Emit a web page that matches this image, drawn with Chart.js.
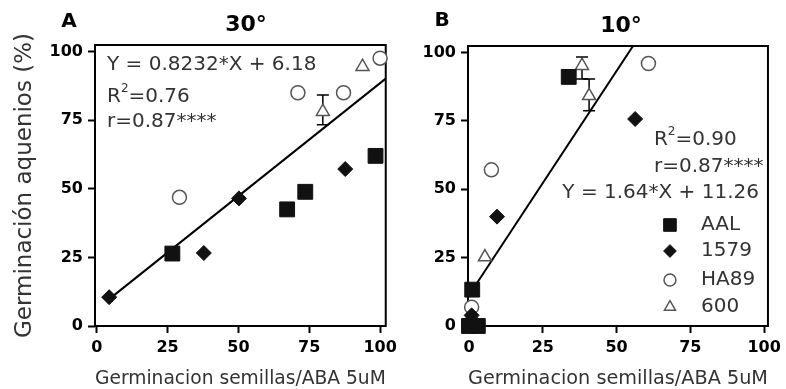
<!DOCTYPE html>
<html>
<head>
<meta charset="utf-8">
<script src="https://cdn.jsdelivr.net/npm/chart.js@4.4.1/dist/chart.umd.min.js"></script>
<style>
html, body { margin: 0; padding: 0; background: #fff; }
#wrap { position: relative; width: 786px; height: 389px; overflow: hidden; }
.panel { position: absolute; top: 0; height: 389px; }
#pa { left: 0; width: 402px; }
#pb { left: 402px; width: 384px; }
</style>
</head>
<body>
<div id="wrap">
  <div class="panel" id="pa"><canvas id="chartA"></canvas></div>
  <div class="panel" id="pb"><canvas id="chartB"></canvas></div>
</div>
<script>
// ---- data ----
const axisTicks = [0, 25, 50, 75, 100];
const genotypes = ['AAL', '1579', 'HA89', '600'];

// Panel A (30°): [x, y] = [germinacion semillas, germinacion aquenios]
const aalA = [[26.7, 26.4], [67.2, 42.5], [73.6, 48.9], [98.4, 62]];
const g1579A = [[4.4, 10.5], [37.8, 26.6], [50.2, 46.5], [87.7, 57.2]];
const ha89A = [[29.2, 46.9], [71, 85], [87.1, 85], [100, 97.6]];
const g600A = [[79.8, 78.1], [93.8, 94.5]];
const errA = [[79.8, 73.3, 84.2]];           // x, low, high
const fitA = [0.8232, 6.18];                  // slope, intercept
const fitRangeA = [4.4, 102];

// Panel B (10°)
const aalB = [[0, 0], [3, 0], [1.1, 13.3], [33.8, 91.1]];
const g1579B = [[0.9, 0], [0.9, 3.9], [9.5, 40], [56.3, 75.7]];
const ha89B = [[0.9, 1.5], [0.9, 6.9], [7.6, 57.1], [60.8, 96]];
const g600B = [[2, 0], [5.4, 25.2], [38.3, 95.2], [40.7, 84.2]];
const errB = [[38.3, 90.3, 98.4], [40.7, 78.7, 90.3]];
const fitB = [1.64, 11.26];
const fitRangeB = [1.1, 60];

Chart.defaults.font.family = "'DejaVu Sans', sans-serif";
Chart.defaults.color = '#000';

const toPts = arr => arr.map(p => ({ x: p[0], y: p[1] }));
const fitPts = (fit, range) => range.map(x => ({ x: x, y: fit[0] * x + fit[1] }));

function markerSets(aal, g1579, ha89, g600) {
    return [
        { label: genotypes[0], data: toPts(aal), pointStyle: 'rect', pointRadius: 10.5,
          backgroundColor: '#111', borderColor: '#111', borderWidth: 1, order: 1 },
        { label: genotypes[1], data: toPts(g1579), pointStyle: 'rectRot', pointRadius: 7.5,
          backgroundColor: '#111', borderColor: '#111', borderWidth: 1, order: 2 },
        { label: genotypes[2], data: toPts(ha89), pointStyle: 'circle', pointRadius: 7,
          backgroundColor: '#fff', borderColor: '#555', borderWidth: 1.5, order: 3 },
        { label: genotypes[3], data: toPts(g600), pointStyle: 'triangle', pointRadius: 7.5,
          backgroundColor: '#fff', borderColor: '#555', borderWidth: 1.5, order: 4 }
    ].map(d => Object.assign(d, { clip: false, showLine: false, pointHoverRadius: d.pointRadius }));
}

// frame + error bars, drawn under the markers
const framePlugin = {
    id: 'frame',
    beforeDatasetsDraw(chart, args, opts) {
        const { ctx, chartArea: a, scales } = chart;
        ctx.save();
        ctx.strokeStyle = '#000';
        ctx.lineWidth = 2;
        ctx.strokeRect(a.left, a.top, a.right - a.left, a.bottom - a.top);
        ctx.lineWidth = 1.5;
        (opts.errors || []).forEach(e => {
            const x = scales.x.getPixelForValue(e[0]);
            const lo = scales.y.getPixelForValue(e[1]);
            const hi = scales.y.getPixelForValue(e[2]);
            ctx.beginPath();
            ctx.moveTo(x, lo); ctx.lineTo(x, hi);
            ctx.moveTo(x - 6, lo); ctx.lineTo(x + 6, lo);
            ctx.moveTo(x - 6, hi); ctx.lineTo(x + 6, hi);
            ctx.stroke();
        });
        ctx.restore();
    }
};

function drawR2(ctx, x, y, value) {
    ctx.textAlign = 'left';
    ctx.font = "20px 'DejaVu Sans'";
    ctx.fillText('R', x, y);
    const w = ctx.measureText('R').width;
    ctx.font = "12px 'DejaVu Sans'";
    ctx.fillText('2', x + w, y - 8);
    const w2 = ctx.measureText('2').width;
    ctx.font = "20px 'DejaVu Sans'";
    ctx.fillText('=' + value, x + w + w2, y);
}

const textPlugin = {
    id: 'panelText',
    afterDraw(chart, args, opts) {
        const { ctx } = chart;
        ctx.save();
        ctx.fillStyle = '#000';
        ctx.textBaseline = 'middle';
        ctx.textAlign = 'center';
        ctx.font = "bold 20px 'DejaVu Sans'";
        ctx.fillText(opts.letter[0], opts.letter[1], opts.letter[2]);
        ctx.font = "bold 22px 'DejaVu Sans'";
        ctx.fillText(opts.title[0], opts.title[1], opts.title[2]);
        ctx.fillStyle = '#333';
        opts.draw(ctx, chart);
        ctx.restore();
    }
};

function scaleOpts(min, max, size, title) {
    return {
        type: 'linear', min: min, max: max,
        afterBuildTicks: s => { s.ticks = axisTicks.map(v => ({ value: v })); },
        afterFit: s => { if (s.isHorizontal()) s.height = size; else s.width = size; },
        grid: { drawOnChartArea: false, drawTicks: true, tickLength: 7, tickColor: '#000', tickWidth: 2 },
        border: { display: false },
        ticks: { color: '#000', font: { size: 16, weight: 'bold' }, padding: 5, maxRotation: 0, autoSkip: false },
        title: title
    };
}

const xTitle = { display: true, text: 'Germinacion semillas/ABA 5uM', color: '#333',
                 font: { size: 20, lineHeight: 1 }, padding: { top: 0, bottom: 0 } };

function makePanel(id, cfg) {
    return new Chart(document.getElementById(id), {
        type: 'scatter',
        data: {
            datasets: markerSets.apply(null, cfg.sets).concat([{
                type: 'line', label: 'fit', data: fitPts(cfg.fit, cfg.fitRange),
                borderColor: '#000', borderWidth: 2, pointRadius: 0, fill: false, order: 5
            }])
        },
        options: {
            responsive: true,
            maintainAspectRatio: false,
            animation: false,
            layout: { padding: cfg.padding },
            plugins: {
                legend: { display: false },
                tooltip: { enabled: false },
                frame: { errors: cfg.errors },
                panelText: cfg.text
            },
            scales: {
                x: scaleOpts(cfg.xRange[0], cfg.xRange[1], 63, xTitle),
                y: scaleOpts(0, 102.4, cfg.yWidth, cfg.yTitle)
            }
        },
        plugins: [framePlugin, textPlugin]
    });
}

// Panel A
makePanel('chartA', {
    sets: [aalA, g1579A, ha89A, g600A],
    fit: fitA, fitRange: fitRangeA, errors: errA,
    xRange: [-0.6, 102], yWidth: 95,
    padding: { top: 45, right: 3, bottom: 0, left: 0 },
    yTitle: { display: true, text: 'Germinación aquenios (%)', color: '#333',
              font: { size: 23, lineHeight: 1 }, padding: { top: 14, bottom: 0 } },
    text: {
        letter: ['A', 69, 22], title: ['30°', 246, 25],
        draw(ctx, chart) {
            const x = chart.chartArea.left + 12;
            ctx.textAlign = 'left';
            ctx.font = "20px 'DejaVu Sans'";
            ctx.fillText('Y = 0.8232*X + 6.18', x, 65);
            drawR2(ctx, x, 97, '0.76');
            ctx.textAlign = 'left';
            ctx.fillText('r=0.87****', x, 122);
        }
    }
});

// Panel B
makePanel('chartB', {
    sets: [aalB, g1579B, ha89B, g600B],
    fit: fitB, fitRange: fitRangeB, errors: errB,
    xRange: [-0.33, 101.3], yWidth: 66,
    padding: { top: 46, right: 14, bottom: 0, left: 0 },
    yTitle: { display: false },
    text: {
        letter: ['B', 40, 21], title: ['10°', 219, 26],
        draw(ctx, chart) {
            const a = chart.chartArea;
            ctx.textAlign = 'left';
            drawR2(ctx, a.right - 114, 140, '0.90');
            ctx.textAlign = 'left';
            ctx.fillText('r=0.87****', a.right - 114, 167);
            ctx.textAlign = 'right';
            ctx.fillText('Y = 1.64*X + 11.26', a.right - 9, 193);
            // legend
            const rows = [225, 251, 280, 307];
            chart.data.datasets.slice(0, 4).forEach((ds, i) => {
                ctx.save();
                ctx.fillStyle = ds.backgroundColor;
                ctx.strokeStyle = ds.borderColor;
                ctx.lineWidth = ds.borderWidth;
                Chart.helpers.drawPoint(ctx, {
                    pointStyle: ds.pointStyle, radius: ds.pointRadius * 0.85, rotation: 0, borderWidth: ds.borderWidth
                }, a.right - 98, rows[i]);
                ctx.restore();
            });
            ctx.textAlign = 'left';
            ctx.fillStyle = '#333';
            genotypes.forEach((g, i) => ctx.fillText(g, a.right - 67, rows[i]));
        }
    }
});
</script>
</body>
</html>
